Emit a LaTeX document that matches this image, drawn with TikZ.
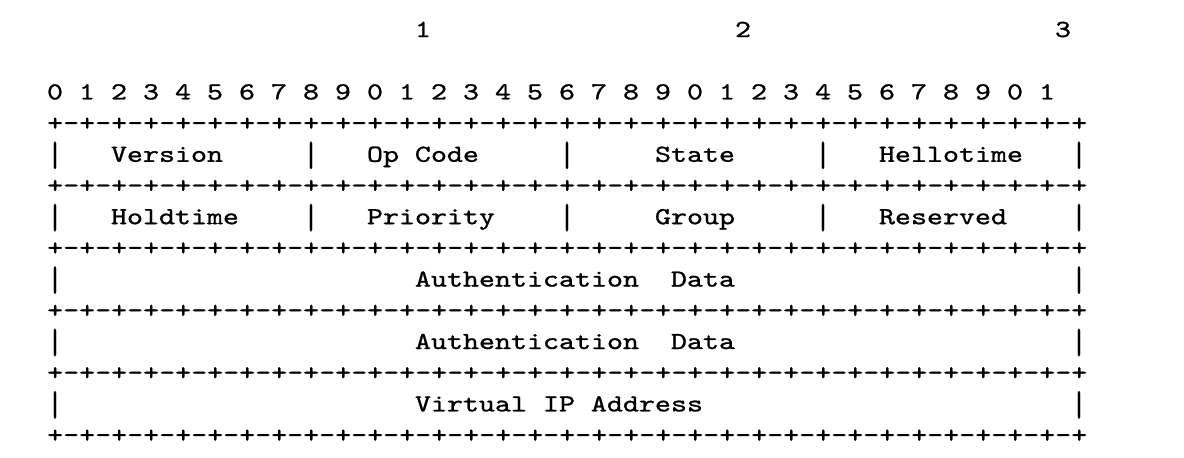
\documentclass[tikz,border=0pt]{standalone}
\usepackage{fontspec}
\newfontfamily\rfcfont{lmmono10-regular}[Extension=.otf,FakeStretch=1.244,FakeBold=1]
\tikzset{
	rfc/.style={font=\rfcfont\fontsize{24.5pt}{24.5pt}\selectfont,inner sep=0pt,anchor=base},
	bar/.style={rfc,transform shape,yscale=1.45,yshift=-3pt},
}
\begin{document}
\begin{tikzpicture}[x=16pt,y=-31.2pt]
	\useasboundingbox(-55pt,37pt)rectangle(1129pt,-421pt);
	\foreach \n/\c in{1/23,2/43,3/63}{
		\node[rfc](word\n)at(\c,0){\n};
	}
	\foreach \i in{0,...,31}{
		\pgfmathtruncatemacro\d{mod(\i,10)}
		\node[rfc](bit\i)at(2*\i,2){\d};
	}
	\foreach \r in{3,5,7,9,11,13}{
		\node[rfc,anchor=base west](rule\r)at(-.5,\r){+-+-+-+-+-+-+-+-+-+-+-+-+-+-+-+-+-+-+-+-+-+-+-+-+-+-+-+-+-+-+-+-+};
	}
	\foreach \r in{4,6}{
		\foreach \c in{0,16,32,48,64}{
			\node[bar](bar\r-\c)at(\c,\r){|};
		}
	}
	\foreach \r in{8,10,12}{
		\foreach \c in{0,64}{
			\node[bar](bar\r-\c)at(\c,\r){|};
		}
	}
	\node[rfc](version)at(7,4){Version};
	\node[rfc](opcode)at(23,4){Op Code};
	\node[rfc](state)at(40,4){State};
	\node[rfc](hellotime)at(56,4){Hellotime};
	\node[rfc](holdtime)at(7.5,6){Holdtime};
	\node[rfc](priority)at(23.5,6){Priority};
	\node[rfc](group)at(40,6){Group};
	\node[rfc](reserved)at(55.5,6){Reserved};
	\node[rfc](authA)at(32.5,8){Authentication\ \ Data};
	\node[rfc](authB)at(32.5,10){Authentication\ \ Data};
	\node[rfc](vip)at(31.5,12){Virtual IP Address};
\end{tikzpicture}
\end{document}
